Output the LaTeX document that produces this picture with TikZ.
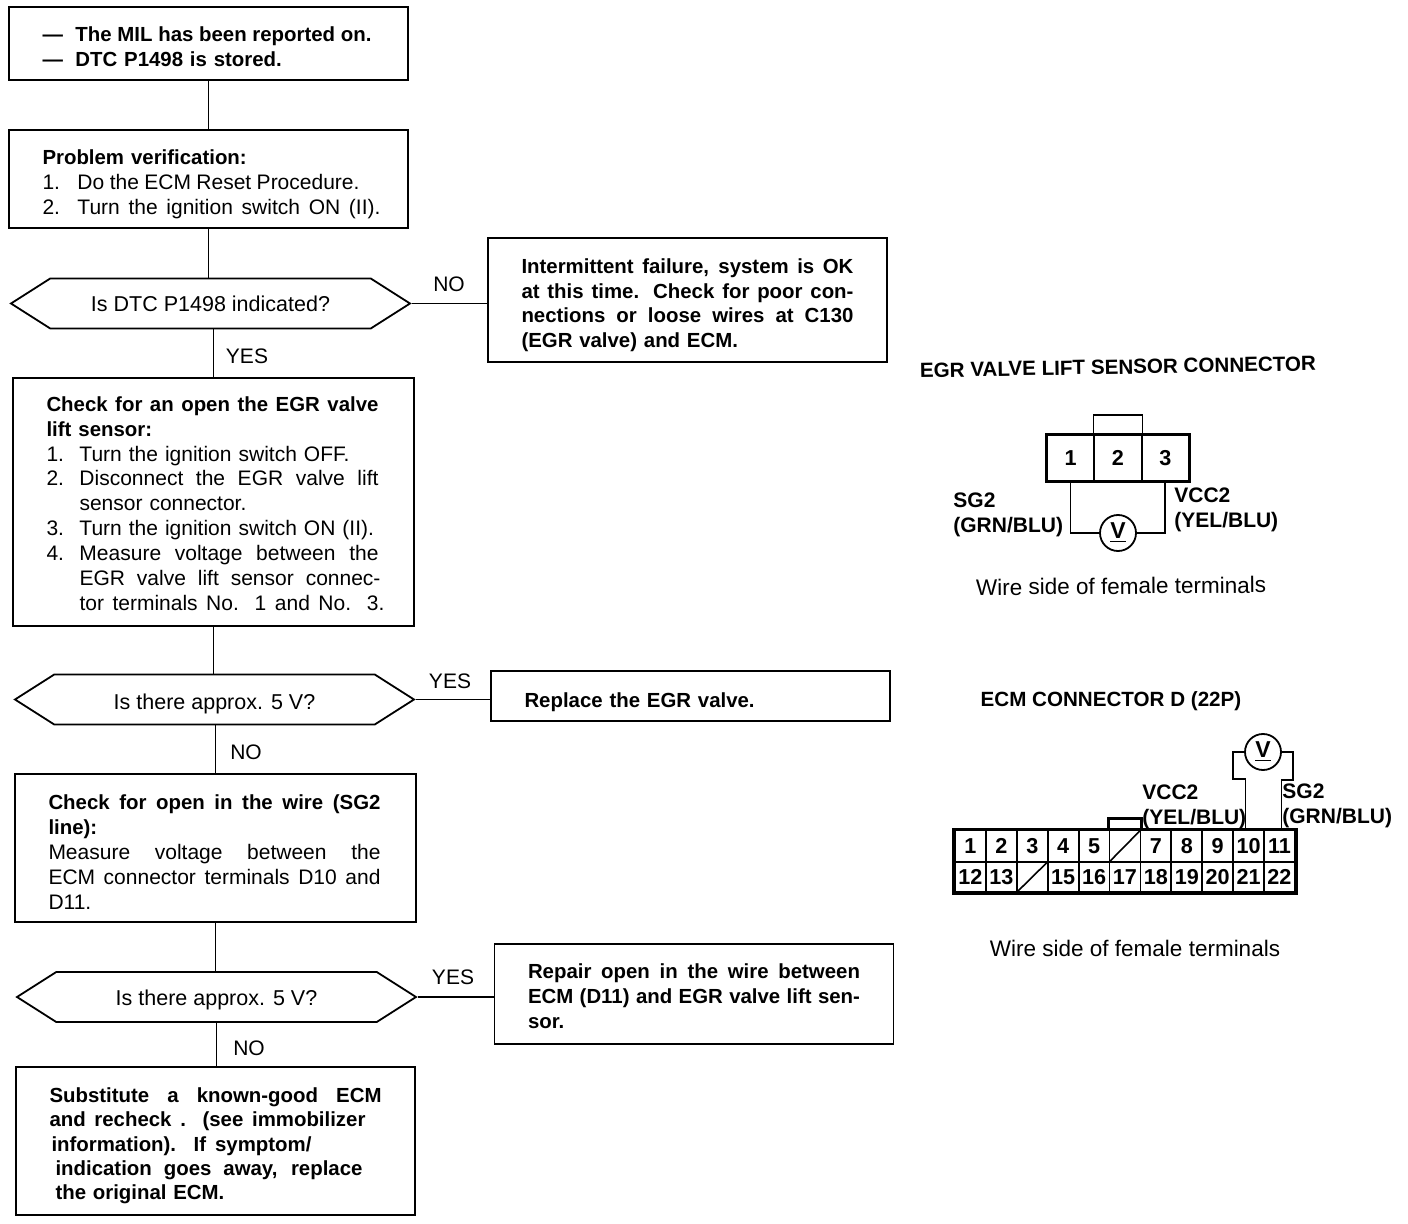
\documentclass[tikz,border=0pt]{standalone}
\usepackage{fontspec}
\setmainfont{Liberation Sans}
\usetikzlibrary{shapes.symbols}
\newcommand{\jl}[2][166pt]{\leavevmode\hbox to #1{\spaceskip=0pt \xspaceskip=0pt #2\unskip}}
\newcommand{\num}[2]{\makebox[16.5pt][l]{#1}#2}
\newcommand{\hd}[1]{{\fontsize{10.2}{12.45}\selectfont\bfseries #1}}
\newcommand{\nudge}[1]{\rule{0pt}{#1}}
\tikzset{
	box/.style={draw, line width=0.9pt, minimum width=199.5pt, text width=166pt, inner xsep=16.75pt, inner ysep=0pt, align=left, font=\fontsize{10.5}{12.45}\selectfont},
	boldbox/.style={box, font=\fontsize{10.2}{12.45}\selectfont\bfseries},
	decision/.style={draw, line width=0.9pt, signal, signal to=east and west, signal pointer angle=65, minimum width=199.5pt, minimum height=25pt, inner sep=0pt, font=\fontsize{10.75}{12.4}\selectfont},
	lab/.style={inner sep=0pt, font=\fontsize{10.5}{12.4}\selectfont},
	side/.style={inner sep=0pt, font=\fontsize{11.25}{12.4}\selectfont},
	title/.style={inner sep=0pt, font=\fontsize{10.3}{12.4}\selectfont\bfseries},
	wire/.style={inner sep=0pt, anchor=west, align=left, font=\fontsize{10.5}{12.4}\selectfont\bfseries},
	pin/.style={draw, line width=0.9pt, inner sep=0pt, font=\fontsize{10.8}{12}\selectfont\bfseries},
	meter/.style={draw, circle, line width=0.9pt, minimum size=18pt, inner sep=0pt, font=\fontsize{11.5}{12}\selectfont\bfseries},
	link/.style={line width=0.8pt}
}
\begin{document}
\begin{tikzpicture}[x=0.5pt, y=-0.5pt]
	\useasboundingbox (0,0) rectangle (1408,1224);
	% left column
	\node[boldbox, minimum height=36.5pt] (start) at (208.5,43.5) {\nudge{10.6pt}\num{---}{\jl[148pt]{The MIL has been reported on.}}\\\num{---}{DTC P1498 is stored.}};
	\node[box, minimum height=49pt] (verify) at (208.5,179) {\nudge{12.6pt}\hd{Problem verification:}\\\num{1.}{\hspace*{1pt}\jl[141pt]{Do the ECM Reset Procedure.}}\\\num{2.}{\hspace*{1pt}\jl[151.5pt]{Turn the ignition switch ON (II).}}};
	\node[decision] (dtc) at (210.5,303.5) {Is DTC P1498 indicated?};
	\node[boldbox, minimum height=62pt] (intermit) at (687.5,300) {\nudge{12.6pt}\jl{Intermittent failure, system is OK}\\\jl{at this time. Check for poor con-}\\\jl{nections or loose wires at C130}\\(EGR valve) and ECM.};
	\node[box, minimum width=200.5pt, minimum height=124pt] (opencheck) at (213.5,502) {\nudge{9pt}\hspace*{-0.5pt}\hd{\jl{Check for an open the EGR valve}}\\\hspace*{-0.5pt}\hd{lift sensor:}\\\hspace*{-0.5pt}\num{1.}{Turn the ignition switch OFF.}\\\hspace*{-0.5pt}\num{2.}{\jl[149.5pt]{Disconnect the EGR valve lift}}\\\hspace*{-0.5pt}\num{}{sensor connector.}\\\hspace*{-0.5pt}\num{3.}{Turn the ignition switch ON (II).}\\\hspace*{-0.5pt}\num{4.}{\jl[149.5pt]{Measure voltage between the}}\\\hspace*{-0.5pt}\num{}{\jl[150.5pt]{EGR valve lift sensor connec-}}\\\hspace*{-0.5pt}\num{}{\jl[152.5pt]{tor terminals No. 1 and No. 3.}}};
	\node[decision] (volta) at (214.5,699.5) {\nudge{12.6pt}Is there approx. 5 V?};
	\node[boldbox, minimum height=25pt] (replace) at (690.5,696) {\nudge{13.6pt}Replace the EGR valve.};
	\node[box, minimum width=200.5pt, minimum height=74pt] (wirecheck) at (215.5,848) {\nudge{11.6pt}\hspace*{-0.5pt}\hd{\jl{Check for open in the wire (SG2}}\\\hspace*{-0.5pt}\hd{line):}\\\hspace*{-0.5pt}\jl{Measure voltage between the}\\\hspace*{-0.5pt}\jl{ECM connector terminals D10 and}\\\hspace*{-0.5pt}D11.};
	\node[decision] (voltb) at (216.5,997) {\nudge{10.6pt}Is there approx. 5 V?};
	\node[boldbox, minimum height=50pt] (repair) at (694,994) {\nudge{9.6pt}\jl{Repair open in the wire between}\\\jl{ECM (D11) and EGR valve lift sen-}\\sor.};
	\node[boldbox, minimum height=74pt, font=\fontsize{10.2}{12.1}\selectfont\bfseries] (subst) at (215.5,1141) {\nudge{12.2pt}\jl{Substitute a known-good ECM}\\\jl[158pt]{and recheck . (see immobilizer}\\\hspace*{1pt}\jl[130pt]{information). If symptom/}\\\hspace*{3pt}\jl[153.5pt]{indication goes away, replace}\\\hspace*{3pt}the original ECM.};
	% connectors
	\draw[link] (start) -- (verify);
	\draw[link] (verify.south) -- (verify.south |- dtc.north);
	\draw[link] (opencheck.north |- dtc.south) -- (opencheck.north);
	\draw[link] (opencheck.south) -- (opencheck.south |- volta.north);
	\draw[link] (wirecheck.north |- volta.south) -- (wirecheck.north);
	\draw[link] (wirecheck.south) -- (wirecheck.south |- voltb.north);
	\draw[link] (voltb.south) -- (voltb.south |- subst.north);
	\draw[link] (dtc.east) -- (dtc.east -| intermit.west);
	\draw[link] (volta.east) -- (volta.east -| replace.west);
	\draw[link] (voltb.east) -- (voltb.east -| repair.west);
	\node[lab] (no1) at (449,284) {NO};
	\node[lab] (yes1) at (247,356) {YES};
	\node[lab] (yes2) at (450,681) {YES};
	\node[lab] (no2) at (246,752) {NO};
	\node[lab] (yes3) at (453,977) {YES};
	\node[lab] (no3) at (249,1048) {NO};
	% EGR connector
	\node[title, rotate=1] (titleA) at (1118,367) {EGR VALVE LIFT SENSOR CONNECTOR};
	\foreach \n [count=\i] in {1,2,3} {
		\node[pin, minimum width=23.7pt, minimum height=23pt] (pinA\i) at ({1047+47.3*(\i-0.5)},458) {\n};
	}
	\draw[line width=1.4pt] (pinA1.north west) rectangle (pinA3.south east);
	\draw[link] (pinA2.north west) -- ++(0,-19) -| (pinA2.north east);
	\node[meter] (meterA) at (1118,533) {\underline{V}};
	\draw[link] (pinA1.south) |- (meterA.west);
	\draw[link] (pinA3.south) |- (meterA.east);
	\node[wire] (sgA) at (953,515) {SG2\\(GRN/BLU)};
	\node[wire] (vccA) at (1174,509.5) {VCC2\\(YEL/BLU)};
	\node[side, rotate=0.5] (sideA) at (1121,586) {Wire side of female terminals};
	% ECM connector
	\node[title] (titleD) at (1111,701) {ECM CONNECTOR D (22P)};
	\foreach \n [count=\i] in {1,2,3,4,5,{},7,8,9,10,11} {
		\node[pin, minimum width=15.45pt, minimum height=15.7pt] (pinD\i) at ({955+30.9*(\i-0.5)},846) {\n};
	}
	\foreach \n [count=\i] in {12,13,{},15,16,17,18,19,20,21,22} {
		\node[pin, minimum width=15.45pt, minimum height=15.2pt] (pinE\i) at ({955+30.9*(\i-0.5)},877) {\n};
	}
	\draw[line width=1.8pt] (pinD1.north west) rectangle (pinE11.south east);
	\draw[link] (pinD6.south west) -- (pinD6.north east);
	\draw[link] (pinE3.south west) -- (pinE3.north east);
	\draw[line width=1.2pt] (pinD6.north west) -- ++(0,-11) -| (pinD6.north east);
	\node[meter] (meterD) at (1263,752) {\underline{V}};
	\draw[link] (pinD10.north) ++(-3,0) |- (1233,779) |- (meterD.west);
	\draw[link] (pinD11.north) ++(2,0) |- (1293,780) |- (meterD.east);
	\node[wire] (vccD) at (1142,807) {VCC2\\(YEL/BLU)};
	\node[wire] (sgD) at (1282,806) {SG2\\(GRN/BLU)};
	\node[side] (sideD) at (1135,948) {Wire side of female terminals};
\end{tikzpicture}
\end{document}
